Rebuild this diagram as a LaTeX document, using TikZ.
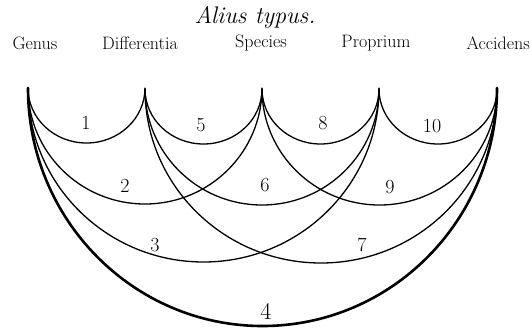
\documentclass[tikz,border=0pt]{standalone}
\begin{document}
\begin{tikzpicture}[x=1pt,y=-1pt,
  lbl/.style={font=\fontsize{18}{20}\selectfont, inner sep=0pt},
  num/.style={font=\fontsize{20}{22}\selectfont, inner sep=0pt},
  ttl/.style={font=\fontsize{24}{26}\selectfont\itshape, inner sep=0pt},
  arcline/.style={line width=1.3pt, line cap=round},
  bigarc/.style={line width=2.6pt, line cap=round}]
\useasboundingbox (0,0) rectangle (532,333);
\node[ttl] (title) at (255,17) {Alius typus.};
\node[lbl] (lG) at (35,43) {Genus};
\node[lbl] (lD) at (140,43) {Differentia};
\node[lbl] (lS) at (261,43) {Species};
\node[lbl] (lP) at (376,43) {Proprium};
\node[lbl, anchor=east] (lA) at (530,43) {Accidens};
\coordinate (G) at (28,88);
\coordinate (D) at (145,89);
\coordinate (S) at (262,89);
\coordinate (P) at (379,89);
\coordinate (A) at (497,88);
% adjacent
\draw[arcline] (G) arc[start angle=180,end angle=0,x radius=58.5,y radius=55];
\draw[arcline] (D) arc[start angle=180,end angle=0,x radius=58.5,y radius=55];
\draw[arcline] (S) arc[start angle=180,end angle=0,x radius=58.5,y radius=55];
\draw[arcline] (P) arc[start angle=180,end angle=0,x radius=59,y radius=55];
% span 2
\draw[arcline] (G) arc[start angle=180,end angle=0,x radius=117,y radius=116];
\draw[arcline] (D) arc[start angle=180,end angle=0,x radius=117,y radius=116];
\draw[arcline] (S) arc[start angle=180,end angle=0,x radius=117.5,y radius=116];
% span 3
\draw[arcline] (G) arc[start angle=180,end angle=0,x radius=175.5,y radius=174];
\draw[arcline] (D) arc[start angle=180,end angle=0,x radius=176,y radius=174];
% span 4
\draw[bigarc] (G) arc[start angle=180,end angle=0,x radius=234.5,y radius=238];
\node[num] (n1) at (86,123) {1};
\node[num] (n5) at (201,125) {5};
\node[num] (n8) at (323,123) {8};
\node[num] (n10) at (432,126) {10};
\node[num] (n2) at (125,186) {2};
\node[num] (n6) at (265,185) {6};
\node[num] (n9) at (390,187) {9};
\node[num] (n3) at (155,245) {3};
\node[num] (n7) at (362,245) {7};
\node[num, font=\fontsize{24}{26}\selectfont] (n4) at (266,311) {4};
\end{tikzpicture}
\end{document}
